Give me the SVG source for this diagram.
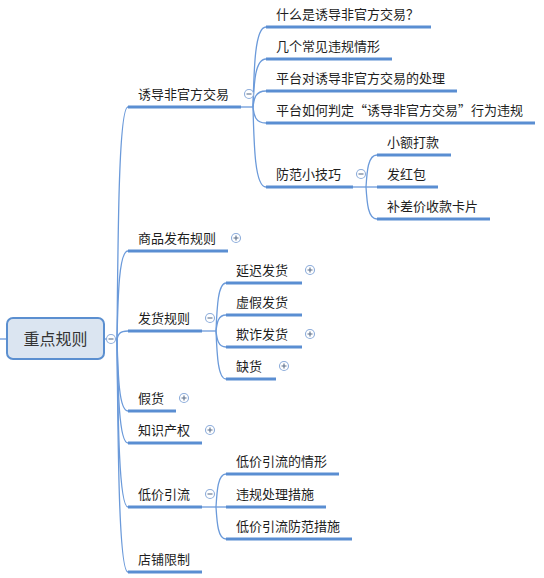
<svg xmlns="http://www.w3.org/2000/svg" width="544" height="578" viewBox="0 0 544 578">
<style>
text{font-family:"Noto Sans CJK SC","Liberation Sans",sans-serif;font-size:13px;fill:#1e1e1e}
.root text{font-size:16px;fill:#333;text-anchor:middle}
.ul{stroke:#5a8ed2;stroke-width:3;fill:none}
.c{stroke:#6b9ada;stroke-width:1.3;fill:none}
.tg circle{fill:#fff;stroke:#8daddb;stroke-width:1.1}
.tg path{stroke:#5c6f8a;stroke-width:1.1;fill:none}
</style>
<rect width="544" height="578" fill="#fff"/>
<g id="connectors">
<path class="c" d="M0 339H7"/>
<path class="c" d="M104 339H117"/>
<path class="c" d="M117 339C118 223 119 107 128 107"/>
<path class="c" d="M117 339C118 295 119 251 128 251"/>
<path class="c" d="M117 339C118 335 119 331 128 331"/>
<path class="c" d="M117 339C118 375 119 411 128 411"/>
<path class="c" d="M117 339C118 391 119 443 128 443"/>
<path class="c" d="M117 339C118 423 119 507 128 507"/>
<path class="c" d="M117 339C118 455 119 572 128 572"/>
<path class="c" d="M241 107H253"/>
<path class="c" d="M253 107C254 67 255 27 266 27"/>
<path class="c" d="M253 107C254 83 255 59 266 59"/>
<path class="c" d="M253 107C254 99 255 91 266 91"/>
<path class="c" d="M253 107C254 115 255 123 266 123"/>
<path class="c" d="M253 107C254 147 255 187 266 187"/>
<path class="c" d="M353 187H377"/>
<path class="c" d="M366 187C367 171 368 155 377 155"/>
<path class="c" d="M366 187C367 203 368 219 377 219"/>
<path class="c" d="M202 331H216"/>
<path class="c" d="M216 331C217 307 218 283 226 283"/>
<path class="c" d="M216 331C217 323 218 315 226 315"/>
<path class="c" d="M216 331C217 339 218 347 226 347"/>
<path class="c" d="M216 331C217 355 218 379 226 379"/>
<path class="c" d="M202 507H226"/>
<path class="c" d="M216 507C217 490 218 474 226 474"/>
<path class="c" d="M216 507C217 523 218 539 226 539"/>
</g>
<g id="root" class="root">
<rect x="7" y="318" width="97" height="41" rx="6" fill="#dbe5f1" stroke="#5b8fd0" stroke-width="2"/>
<text x="55.5" y="345">重点规则</text>
<g class="tg"><circle cx="111" cy="339" r="4.5"/><path d="M108.5 339H113.5"/></g>
</g>
<g id="n1">
<path class="ul" d="M128 107H241"/><text x="138" y="99">诱导非官方交易</text>
<g class="tg"><circle cx="249" cy="94" r="4.5"/><path d="M246.5 94H251.5"/></g>
</g>
<g id="n1a"><path class="ul" d="M266 27H431"/><text x="276" y="19">什么是诱导非官方交易？</text></g>
<g id="n1b"><path class="ul" d="M266 59H392"/><text x="276" y="51">几个常见违规情形</text></g>
<g id="n1c"><path class="ul" d="M266 91H457"/><text x="276" y="83">平台对诱导非官方交易的处理</text></g>
<g id="n1d"><path class="ul" d="M266 123H535"/><text x="276" y="115">平台如何判定“诱导非官方交易”行为违规</text></g>
<g id="n1e">
<path class="ul" d="M266 187H353"/><text x="276" y="179">防范小技巧</text>
<g class="tg"><circle cx="361" cy="174" r="4.5"/><path d="M358.5 174H363.5"/></g>
</g>
<g id="n1e1"><path class="ul" d="M377 155H451"/><text x="387" y="147">小额打款</text></g>
<g id="n1e2"><path class="ul" d="M377 187H438"/><text x="387" y="179">发红包</text></g>
<g id="n1e3"><path class="ul" d="M377 219H490"/><text x="387" y="211">补差价收款卡片</text></g>
<g id="n2">
<path class="ul" d="M128 251H228"/><text x="138" y="243">商品发布规则</text>
<g class="tg"><circle cx="236" cy="238" r="4.5"/><path d="M233.5 238H238.5M236 235.5V240.5"/></g>
</g>
<g id="n3">
<path class="ul" d="M128 331H202"/><text x="138" y="323">发货规则</text>
<g class="tg"><circle cx="210" cy="318" r="4.5"/><path d="M207.5 318H212.5"/></g>
</g>
<g id="n3a">
<path class="ul" d="M226 283H302"/><text x="236" y="275">延迟发货</text>
<g class="tg"><circle cx="310" cy="270" r="4.5"/><path d="M307.5 270H312.5M310 267.5V272.5"/></g>
</g>
<g id="n3b"><path class="ul" d="M226 315H302"/><text x="236" y="307">虚假发货</text></g>
<g id="n3c">
<path class="ul" d="M226 347H302"/><text x="236" y="339">欺诈发货</text>
<g class="tg"><circle cx="310" cy="334" r="4.5"/><path d="M307.5 334H312.5M310 331.5V336.5"/></g>
</g>
<g id="n3d">
<path class="ul" d="M226 379H276"/><text x="236" y="371">缺货</text>
<g class="tg"><circle cx="284" cy="366" r="4.5"/><path d="M281.5 366H286.5M284 363.5V368.5"/></g>
</g>
<g id="n4">
<path class="ul" d="M128 411H176"/><text x="138" y="403">假货</text>
<g class="tg"><circle cx="184" cy="398" r="4.5"/><path d="M181.5 398H186.5M184 395.5V400.5"/></g>
</g>
<g id="n5">
<path class="ul" d="M128 443H202"/><text x="138" y="435">知识产权</text>
<g class="tg"><circle cx="210" cy="430" r="4.5"/><path d="M207.5 430H212.5M210 427.5V432.5"/></g>
</g>
<g id="n6">
<path class="ul" d="M128 507H202"/><text x="138" y="499">低价引流</text>
<g class="tg"><circle cx="210" cy="494" r="4.5"/><path d="M207.5 494H212.5"/></g>
</g>
<g id="n6a"><path class="ul" d="M226 474H339"/><text x="236" y="466">低价引流的情形</text></g>
<g id="n6b"><path class="ul" d="M226 507H326"/><text x="236" y="499">违规处理措施</text></g>
<g id="n6c"><path class="ul" d="M226 539H352"/><text x="236" y="531">低价引流防范措施</text></g>
<g id="n7"><path class="ul" d="M128 572H202"/><text x="138" y="564">店铺限制</text></g>
</svg>
